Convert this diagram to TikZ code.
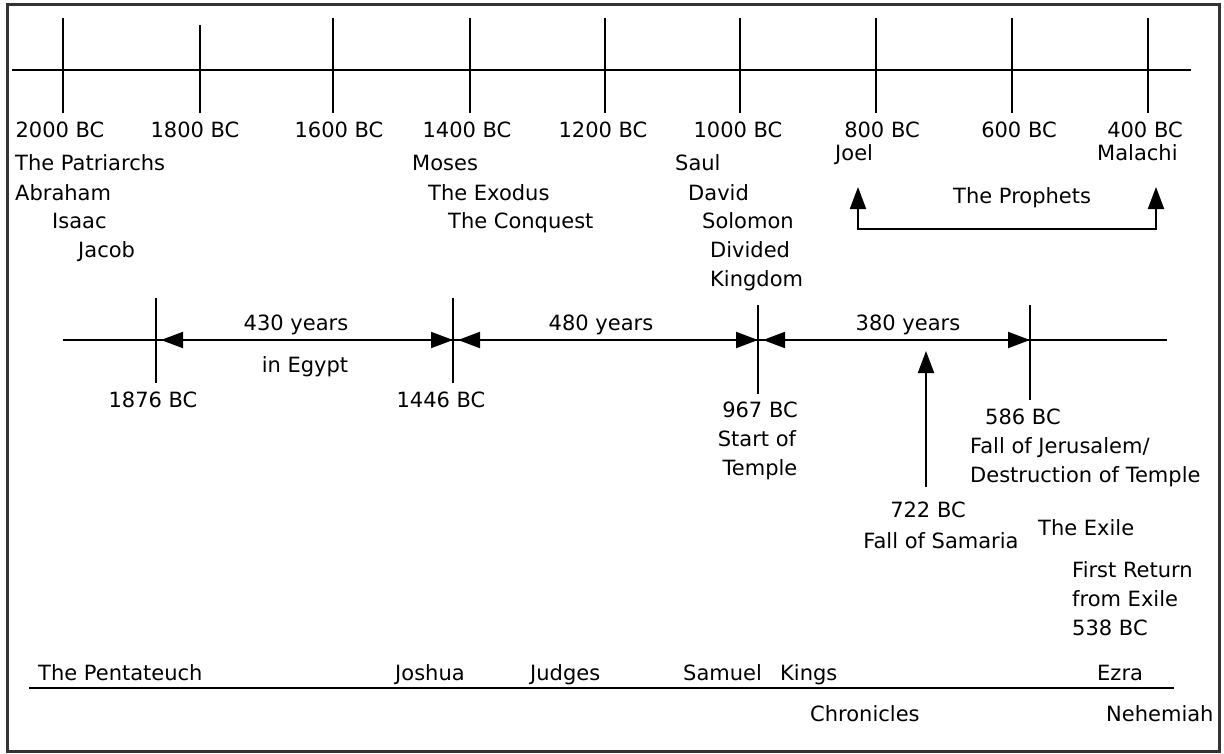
\documentclass[tikz,border=0pt]{standalone}
\usepackage{fontspec}
\setmainfont{DejaVu Sans}
\usetikzlibrary{arrows.meta}
\tikzset{hd/.tip={Triangle[length=22pt,width=16pt]}}
\begin{document}
\begin{tikzpicture}[x=1pt,y=-1pt,
  lbl/.style={inner sep=0pt, font=\fontsize{21}{25}\selectfont},
  lc/.style={lbl, anchor=base},
  lw/.style={lbl, anchor=base west},
  ln/.style={line width=2pt, black},
]
\useasboundingbox (0,0) rectangle (1224,753);
\draw[line width=3pt, black!80] (7,4) rectangle (1219,751);

% top time axis
\coordinate (axL) at (12,70);
\coordinate (axR) at (1191,70);
\draw[ln] (axL) -- (axR);
\foreach \x/\n/\t in {63/a/18, 200/b/25, 333/c/18, 470/d/18, 605/e/18, 740/f/18, 876/g/18, 1012/h/18, 1148/i/18}{
  \coordinate (t\n top) at (\x,\t);
  \coordinate (t\n bot) at (\x,113);
  \draw[ln] (t\n top) -- (t\n bot);
}
\node[lc] (y2000) at (60,137) {2000 BC};
\node[lc] (y1800) at (195,137) {1800 BC};
\node[lc] (y1600) at (339,137) {1600 BC};
\node[lc] (y1400) at (467,137) {1400 BC};
\node[lc] (y1200) at (603,137) {1200 BC};
\node[lc] (y1000) at (738,137) {1000 BC};
\node[lc] (y800) at (882,137) {800 BC};
\node[lc] (y600) at (1019,137) {600 BC};
\node[lc] (y400) at (1145,137) {400 BC};

\node[lw] (patr) at (15,170) {The Patriarchs};
\node[lw] (abr) at (15,200) {Abraham};
\node[lw] (isa) at (52,228) {Isaac};
\node[lw] (jac) at (78,257) {Jacob};

\node[lw] (mos) at (412,170) {Moses};
\node[lw] (exo) at (428,200) {The Exodus};
\node[lw] (conq) at (448,228) {The Conquest};

\node[lw] (saul) at (675,170) {Saul};
\node[lw] (dav) at (688,200) {David};
\node[lw] (sol) at (702,228) {Solomon};
\node[lw] (div) at (710,257) {Divided};
\node[lw] (king) at (710,286) {Kingdom};

\node[lw] (joel) at (835,160) {Joel};
\node[lw] (mal) at (1097,160) {Malachi};
\node[lw] (proph) at (953,203) {The Prophets};

% prophets bracket
\coordinate (pL) at (858,187);
\coordinate (pR) at (1156,187);
\coordinate (pLb) at (858,229);
\draw[ln, hd-hd] (pL) -- (pLb) -| (pR);

% middle timeline
\coordinate (mL) at (63,340);
\coordinate (mR) at (1167,340);
\draw[ln] (mL) -- (mR);
\foreach \n/\x/\a/\b in {k1876/156/298/383, k1446/453/298/383, k967/758/305/394, k586/1030/305/400}{
  \coordinate (\n t) at (\x,\a);
  \coordinate (\n b) at (\x,\b);
  \coordinate (\n) at (\x,340);
  \draw[ln] (\n t) -- (\n b);
}
\coordinate (a1s) at (161,340);
\coordinate (a2s) at (458,340);
\coordinate (a3s) at (763,340);
\draw[ln, hd-hd] (a1s) -- (k1446);
\draw[ln, hd-hd] (a2s) -- (k967);
\draw[ln, hd-hd] (a3s) -- (k586);

\node[lc] (y430) at (296,330) {430 years};
\node[lc] (egy) at (305,372) {in Egypt};
\node[lc] (y480) at (601,330) {480 years};
\node[lc] (y380) at (908,330) {380 years};
\node[lc] (d1876) at (153,407) {1876 BC};
\node[lc] (d1446) at (441,407) {1446 BC};
\node[lc] (d967) at (760,417) {967 BC};
\node[lc] (st) at (757,446) {Start of};
\node[lc] (tem) at (760,475) {Temple};
\node[lw] (d586) at (985,424) {586 BC};
\node[lw] (fj) at (970,453) {Fall of Jerusalem/};
\node[lw] (dt) at (970,482) {Destruction of Temple};

% 722 arrow
\coordinate (s722b) at (926,487);
\coordinate (s722t) at (926,351);
\draw[ln, -hd] (s722b) -- (s722t);
\node[lc] (d722) at (928,517) {722 BC};
\node[lc] (fs) at (941,548) {Fall of Samaria};
\node[lw] (exile) at (1038,535) {The Exile};
\node[lw] (fr) at (1072,577) {First Return};
\node[lw] (fe) at (1072,606) {from Exile};
\node[lw] (d538) at (1072,635) {538 BC};

% books
\coordinate (bL) at (29,688);
\coordinate (bR) at (1174,688);
\draw[ln] (bL) -- (bR);
\node[lw] (pent) at (38,680) {The Pentateuch};
\node[lw] (josh) at (395,680) {Joshua};
\node[lw] (judg) at (530,680) {Judges};
\node[lw] (sam) at (683,680) {Samuel};
\node[lw] (kgs) at (780,680) {Kings};
\node[lw] (ezra) at (1097,680) {Ezra};
\node[lw] (chr) at (810,721) {Chronicles};
\node[lw] (neh) at (1106,721) {Nehemiah};
\end{tikzpicture}
\end{document}
